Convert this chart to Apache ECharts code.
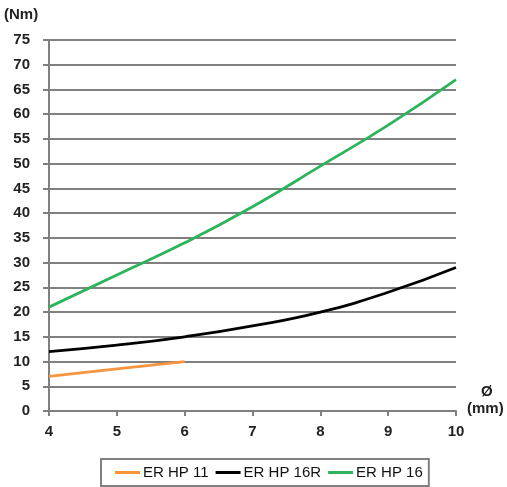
<!DOCTYPE html>
<html><head><meta charset="utf-8">
<script src="https://cdn.jsdelivr.net/npm/echarts@6/dist/echarts.min.js"></script>
<style>html,body{margin:0;padding:0;background:#fff}#c{width:507px;height:487px}</style>
</head><body><div id="c"></div>
<script>
const xValues = [4, 5, 6, 7, 8, 9, 10];
const erHp11 = [7, 8.5, 10];
const erHp16R = [12, 13.3, 15, 17.2, 20, 24, 29];
const erHp16 = [21, 27.5, 34, 41.3, 49.5, 57.8, 67];
const seriesNames = ['ER HP 11', 'ER HP 16R', 'ER HP 16'];
const colors = ['#f7953e', '#000000', '#2db45a'];
const pairs = (ys) => ys.map((y, i) => [xValues[i], y]);
const chart = echarts.init(document.getElementById('c'));
const font = 'Liberation Sans, Arial, Helvetica, sans-serif';
chart.setOption({
  animation: false,
  textStyle: { fontFamily: font },
  grid: { left: 49, right: 51, top: 40, bottom: 76 },
  xAxis: {
    type: 'value', min: 4, max: 10, interval: 1,
    axisLine: { lineStyle: { color: '#808080', width: 2 } },
    axisTick: { show: true, length: 5, lineStyle: { color: '#808080', width: 2 } },
    axisLabel: { color: '#222', fontWeight: 'bold', fontSize: 15, fontFamily: font, margin: 13 },
    splitLine: { show: false }
  },
  yAxis: {
    type: 'value', min: 0, max: 75, interval: 5,
    axisLine: { show: true, lineStyle: { color: '#808080', width: 2 } },
    axisTick: { show: true, length: 6, lineStyle: { color: '#808080', width: 2 } },
    axisLabel: { color: '#222', fontWeight: 'bold', fontSize: 15, fontFamily: font, margin: 19 },
    splitLine: { show: true, lineStyle: { color: '#808080', width: 2 } }
  },
  graphic: [
    { type: 'text', left: 4, top: 7, style: { text: '(Nm)', font: 'bold 15px ' + font, fill: '#222' } },
    { type: 'text', left: 481, top: 384, style: { text: 'Ø', font: 'bold 15px ' + font, fill: '#222' } },
    { type: 'text', left: 467, top: 401, style: { text: '(mm)', font: 'bold 15px ' + font, fill: '#222' } }
  ],
  legend: {
    bottom: 1, left: 101,
    data: seriesNames,
    icon: 'rect',
    borderColor: '#808080', borderWidth: 2, borderRadius: 0,
    padding: [6, 6, 6, 14],
    itemWidth: 25, itemHeight: 3, itemGap: 7,
    textStyle: { color: '#111', fontSize: 15, fontFamily: font, padding: [0, 0, 0, -2] }
  },
  series: [
    { name: seriesNames[0], type: 'line', data: pairs(erHp11), smooth: true, symbol: 'none', lineStyle: { color: colors[0], width: 2.8 }, itemStyle: { color: colors[0] } },
    { name: seriesNames[1], type: 'line', data: pairs(erHp16R), smooth: true, symbol: 'none', lineStyle: { color: colors[1], width: 2.8 }, itemStyle: { color: colors[1] } },
    { name: seriesNames[2], type: 'line', data: pairs(erHp16), smooth: true, symbol: 'none', lineStyle: { color: colors[2], width: 2.8 }, itemStyle: { color: colors[2] } }
  ]
});
</script></body></html>
